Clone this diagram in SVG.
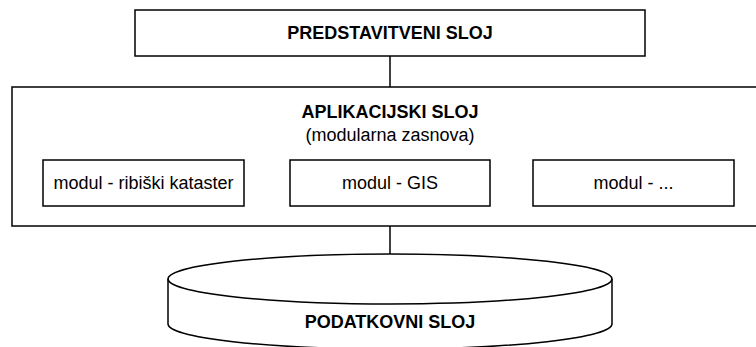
<svg xmlns="http://www.w3.org/2000/svg" width="756" height="347" viewBox="0 0 756 347">
<style>
.box{fill:#fff;stroke:#000;stroke-width:1.5}
.ln{fill:none;stroke:#000;stroke-width:1.5}
.t{font-family:"Liberation Sans",Arial,sans-serif;font-size:18px;fill:#000;text-anchor:middle}
.b{font-weight:bold}
</style>
<rect width="756" height="347" fill="#fff"/>
<g id="connectors">
<line class="ln" x1="390" y1="56" x2="390" y2="87"/>
<line class="ln" x1="390" y1="226" x2="390" y2="254"/>
</g>
<g id="predstavitveni">
<rect class="box" x="135" y="10" width="510" height="46"/>
<text class="t b" x="390" y="38.5">PREDSTAVITVENI SLOJ</text>
</g>
<g id="aplikacijski">
<rect class="box" x="12" y="87" width="756" height="139"/>
<text class="t b" x="390" y="118">APLIKACIJSKI SLOJ</text>
<text class="t" x="390" y="141">(modularna zasnova)</text>
</g>
<g id="modul-kataster">
<rect class="box" x="43" y="160" width="201" height="46"/>
<text class="t" x="143.5" y="188.5">modul - ribiški kataster</text>
</g>
<g id="modul-gis">
<rect class="box" x="290" y="160" width="200" height="46"/>
<text class="t" x="390" y="188.5">modul - GIS</text>
</g>
<g id="modul-other">
<rect class="box" x="533" y="160" width="201" height="46"/>
<text class="t" x="633.5" y="188.5">modul - ...</text>
</g>
<g id="podatkovni">
<path class="box" d="M168,279 A222,25 0 0 1 612,279 L612,324 A222,25 0 0 1 168,324 Z"/>
<path class="ln" d="M168,279 A222,25 0 0 0 612,279"/>
<text class="t b" x="390" y="328">PODATKOVNI SLOJ</text>
</g>
</svg>
